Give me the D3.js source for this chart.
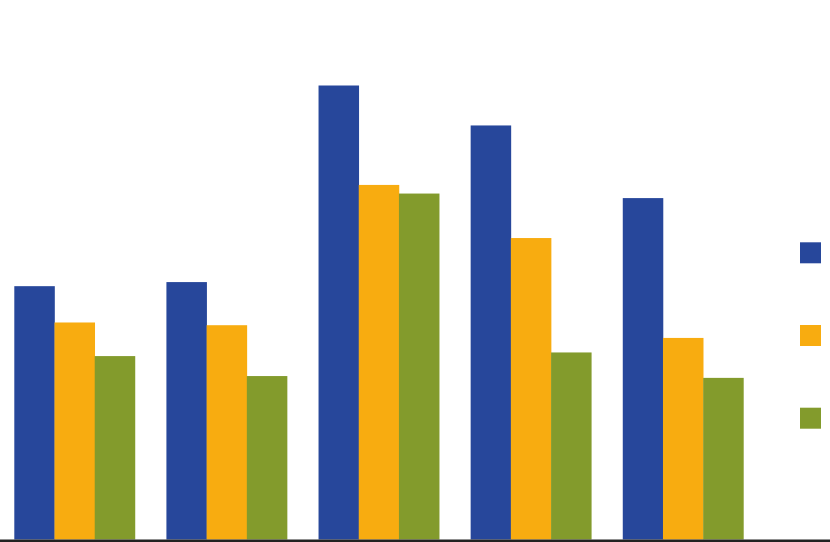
<!DOCTYPE html>
<html>
<head>
<meta charset="utf-8">
<script src="https://cdn.jsdelivr.net/npm/d3@7"></script>
<style>
  html, body { margin: 0; padding: 0; background: #fff; overflow: hidden; }
  svg { display: block; }
</style>
</head>
<body>
<div id="chart"></div>
<script>
// values (label text is cut off in the source)
var categories = ["G1", "G2", "G3", "G4", "G5"];
var seriesNames = ["Series 1", "Series 2", "Series 3"];
var series1 = [55.8, 56.7, 100.0, 91.2, 75.2];
var series2 = [47.8, 47.2, 78.1, 66.4, 44.4];
var series3 = [40.4, 36.0, 76.2, 41.2, 35.6];
var colors  = ["#27479b", "#f8ac10", "#839b2c"];

var W = 830, H = 542;
var baseY = 539.5;
var allSeries = [series1, series2, series3];

var data = categories.map(function(c, i) {
  return { cat: c, vals: allSeries.map(function(s, k) { return { key: seriesNames[k], v: s[i], k: k }; }) };
});

var svg = d3.select("#chart").append("svg")
  .attr("width", W)
  .attr("height", H);

var x0 = d3.scaleBand()
  .domain(categories)
  .range([14.3, 743.4])
  .paddingInner(0.207)
  .paddingOuter(0);

var x1 = d3.scaleBand()
  .domain(seriesNames)
  .range([0, x0.bandwidth()])
  .padding(0);

var y = d3.scaleLinear()
  .domain([0, 120])
  .range([baseY, baseY - 120 * 4.54]);

var groups = svg.selectAll(".group")
  .data(data)
  .enter().append("g")
  .attr("class", "group")
  .attr("transform", function(d) { return "translate(" + x0(d.cat) + ",0)"; });

groups.selectAll("rect")
  .data(function(d) { return d.vals; })
  .enter().append("rect")
  .attr("x", function(d) { return x1(d.key); })
  .attr("width", x1.bandwidth() + 0.3)
  .attr("y", function(d) { return y(d.v); })
  .attr("height", function(d) { return y(0) - y(d.v); })
  .attr("fill", function(d) { return colors[d.k]; });

// baseline
svg.append("line")
  .attr("x1", 0).attr("x2", W)
  .attr("y1", baseY + 1.2).attr("y2", baseY + 1.2)
  .attr("stroke", "#222")
  .attr("stroke-width", 2.6);

// legend swatches (names fall outside the visible area)
var ly = d3.scalePoint()
  .domain(seriesNames)
  .range([242.3, 407.7]);

svg.selectAll(".swatch")
  .data(seriesNames)
  .enter().append("rect")
  .attr("class", "swatch")
  .attr("x", 800)
  .attr("y", function(d) { return ly(d); })
  .attr("width", 21)
  .attr("height", 21)
  .attr("fill", function(d, i) { return colors[i]; });
</script>
</body>
</html>
